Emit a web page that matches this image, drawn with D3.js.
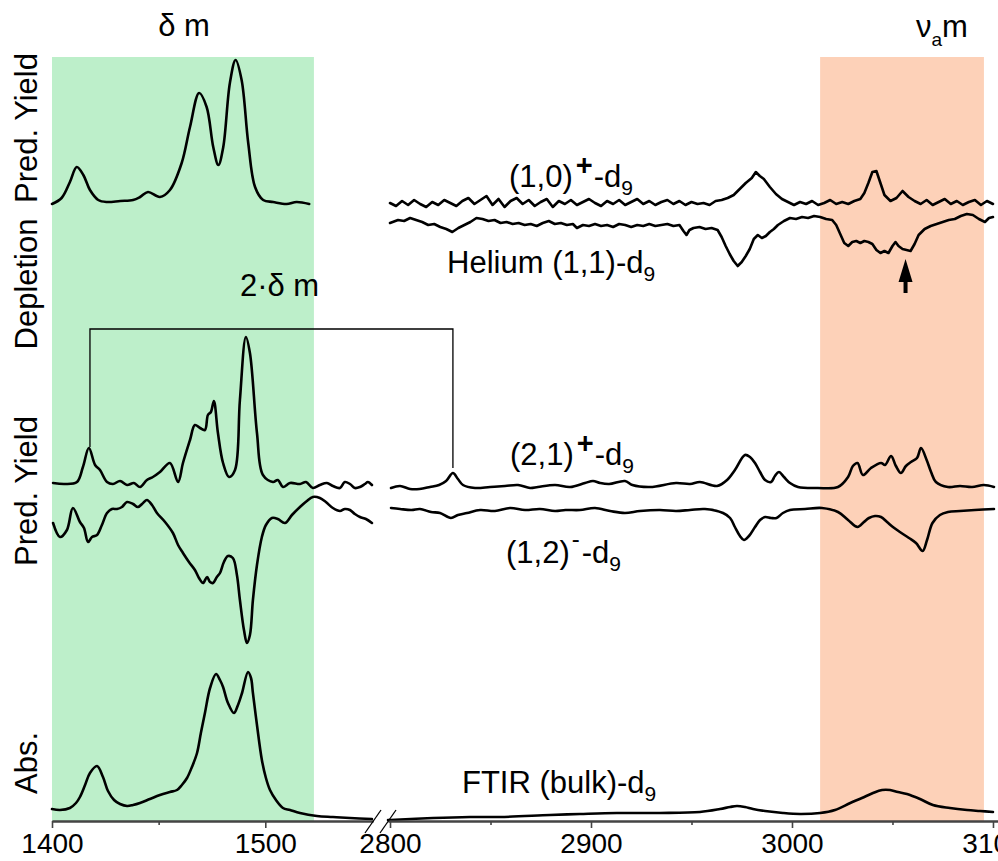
<!DOCTYPE html>
<html><head><meta charset="utf-8">
<script src="https://cdn.jsdelivr.net/npm/d3@7"></script>
<style>
html,body{margin:0;padding:0;background:#fff;}
svg{display:block;}
text{font-family:"Liberation Sans",Arial,Helvetica,sans-serif;fill:#000;}
</style>
</head><body><div id="chart"></div>
<script>
// ---------- DATA (wavenumber cm^-1, intensity a.u. relative to each trace's baseline) ----------
const leftTicks = [1400, 1500];
const leftMinor = [1450];
const rightTicks = [2800, 2900, 3000, 3100];
const rightMinor = [2850, 2950, 3050];
const greenSpan = [1400, 1522.8];
const orangeSpan = [3014, 3095.5];

// Pred. Yield (delta m) - left segment
const predDelta = [[1400,-1],[1404.5,5],[1408.4,21],[1411.6,36],[1414.7,28],[1417.8,13],[1421.7,3],[1425.6,1],
 [1432,2],[1438,3],[1441.3,6],[1445,11],[1450.6,6],[1455.3,13],[1460.8,40],[1464.7,76],[1469,110],[1472.5,96],
 [1475.6,56],[1478,38],[1480.3,56],[1483.4,120],[1486.1,143],[1488.9,123],[1492,60],[1495.2,16],[1499,3],
 [1503.7,1],[1510,-1],[1514.7,1],[1520.6,-1]];

// (1,0)+ - d9, right segment
const ion10 = [[2800,0],[2803,-3],[2806,2],[2809,-2],[2812,3],[2815,-1],[2818,-4],[2821,1],[2824,-2],[2827,3],
 [2830,0],[2833,-3],[2836,2],[2839,5],[2842,-1],[2845,3],[2848,7],[2851,-2],[2854,4],[2857,-4],[2860,2],[2863,5],
 [2866,-1],[2869,3],[2872,-3],[2875,1],[2878,4],[2881,-4],[2884,2],[2887,-1],[2890,3],[2893,-2],[2896,1],[2899,4],
 [2902,0],[2905,-3],[2908,2],[2911,-1],[2914,3],[2917,-2],[2920,1],[2923,4],[2926,-1],[2929,2],[2932,-2],[2935,1],
 [2938,3],[2941,-1],[2944,2],[2947,-2],[2950,1],[2953,-1],[2956,0],[2959,-2],[2962,2],[2965,3],[2968,5],[2971,8],
 [2974,14],[2977,20],[2980,25],[2982,31],[2984,27],[2986,24],[2989,16],[2992,9],[2995,4],[2998,1],[3001,-2],
 [3004,1],[3007,-1],[3010,2],[3013,-2],[3016,0],[3019,3],[3022,-1],[3025,1],[3028,-1],[3031,2],[3034,4],[3036,10],
 [3038,20],[3040,31],[3042,32],[3044,20],[3046,8],[3049,2],[3052,5],[3055,12],[3058,6],[3061,2],[3064,-1],
 [3067,3],[3070,-2],[3073,1],[3076,4],[3079,-1],[3082,2],[3085,-2],[3088,1],[3091,3],[3094,-2],[3097,2],[3100,-1]];

// Helium (1,1) - d9 depletion, right segment
const helium = [[2800,-1],[2804,2],[2807,1],[2810,4],[2813,2],[2816,0],[2819,-3],[2822,-2],[2825,-5],[2828,-7],
 [2831,-10],[2834,-6],[2837,-3],[2840,0],[2843,4],[2846,3],[2849,1],[2852,2],[2855,-1],[2858,0],[2861,-2],
 [2864,-1],[2867,-3],[2870,-2],[2873,-4],[2876,-1],[2879,1],[2882,-2],[2885,-1],[2888,-3],[2891,-2],[2893,-6],
 [2896,-3],[2899,-4],[2902,-2],[2905,-4],[2908,-3],[2911,-5],[2914,-2],[2917,-3],[2920,-5],[2923,-3],[2926,-4],
 [2929,-2],[2932,-4],[2935,-3],[2938,-2],[2941,-4],[2944,-3],[2946,-9],[2947.5,-13],[2949,-8],[2951,-6],
 [2954,-5],[2957,-7],[2960,-6],[2963,-8],[2965,-15],[2967,-24],[2969,-32],[2971,-39],[2973,-44],[2975,-40],
 [2977,-34],[2979,-27],[2981,-17],[2983,-13],[2985,-16],[2987,-14],[2989,-10],[2991,-7],[2993,-3],[2996,1],
 [2999,4],[3002,3],[3005,5],[3008,4],[3011,6],[3014,5],[3017,3],[3020,2],[3022,-3],[3024,-12],[3026,-21],
 [3028,-24],[3030,-20],[3032,-19],[3034,-21],[3036,-19],[3038,-20],[3040,-22],[3042,-28],[3044,-31],[3046,-29],
 [3048,-31],[3050,-24],[3051.5,-20],[3053,-24],[3055,-27],[3057,-28],[3059,-29],[3061,-22],[3063,-13],[3066,-7],
 [3069,-4],[3072,-2],[3075,0],[3078,2],[3081,3],[3084,6],[3087,8],[3090,7],[3093,3],[3096,0],[3098,4],[3100,5]];

// (2,1)+ - d9 predissociation yield, left and right segments
const ion21Left = [[1400.5,3],[1406.1,2],[1411.7,4],[1414.5,19],[1417.3,38],[1420.2,21],[1422.5,16],[1425.8,4],
 [1428.6,2],[1431.9,5],[1435.2,1],[1438.4,3],[1441.3,-1],[1444.5,6],[1447.3,9],[1450.6,14],[1455.3,23],
 [1459.1,4],[1461.4,23],[1464.7,46],[1467,61],[1469.4,58],[1471.7,56],[1473.1,71],[1474.5,74],[1475.9,85],
 [1477.8,53],[1480.2,23],[1483,9],[1485.8,16],[1488.1,86],[1490.9,149],[1492.8,133],[1496.1,53],[1498.9,11],
 [1503.6,4],[1505.9,6],[1508.3,-1],[1511.6,3],[1516.3,2],[1519.1,4],[1522.3,-2],[1525.6,1],[1528.9,3],
 [1531.7,0],[1535,-2],[1537.3,4],[1539.7,2],[1542,-2],[1544.4,-1],[1546.7,2],[1548.1,4],[1550,1]];
const ion21Right = [[2800.5,-2],[2805,0],[2810,-3],[2814.7,-3],[2819.9,-1],[2824.4,1],[2827.9,5],[2831.3,13],
 [2833.8,7],[2836.3,1],[2842.3,-2],[2849.8,-1],[2857.2,0],[2863.7,1],[2869.7,-2],[2873.6,-1],[2882.1,1],
 [2889.6,-1],[2897,3],[2901,5],[2904.5,3],[2909,2],[2916.9,5],[2920.6,1],[2929.4,-1],[2942.3,3],[2949.3,2],
 [2954.2,4],[2962.7,0],[2967.7,6],[2971.6,16],[2976.6,31],[2979.1,29],[2981.6,23],[2984.1,14],[2986.6,6],
 [2989.6,4],[2991.5,10],[2993.5,14],[2996,9],[2999,3],[3003,-1],[3012.9,-2],[3022.9,-1],[3027.9,9],[3030.3,20],
 [3032.6,23],[3035.3,11],[3039.3,18],[3044.3,23],[3046.3,21],[3049.3,30],[3051.7,20],[3054.2,13],[3056.7,20],
 [3059.2,24],[3062.2,28],[3064.2,38],[3067,26],[3069.2,14],[3071.6,4],[3077.6,-1],[3083.6,0],[3089.6,-1],
 [3095.5,1],[3100.5,-1]];

// (1,2)- - d9, left and right segments
const ion12Left = [[1400.5,-13],[1403.75,-27],[1407,-20],[1409.8,2],[1413.1,-12],[1415,-18],[1416.9,-32],
 [1418.75,-27],[1421.1,-25],[1423.4,-15],[1425.8,-3],[1428.1,1],[1430.5,1],[1432.8,3],[1435.2,8],[1438,6],
 [1440.3,3],[1442.7,7],[1444.5,10],[1446.9,5],[1449.2,-3],[1453,-12],[1456.7,-23],[1459.1,-35],[1461.4,-43],
 [1464.2,-52],[1467,-60],[1468.9,-68],[1470.8,-73],[1472.7,-67],[1474.1,-72],[1475.5,-73],[1477.3,-67],
 [1478.75,-63],[1480.6,-52],[1482.5,-46],[1484.8,-48],[1486.7,-65],[1488.1,-90],[1490,-120],[1491.4,-133],
 [1492.8,-125],[1494.2,-90],[1496.1,-55],[1498.4,-27],[1500.3,-15],[1503.1,-8],[1505.9,-9],[1509.2,-13],
 [1512.5,-5],[1516.25,3],[1519.5,9],[1522.3,13],[1525.6,12],[1528.4,8],[1531.7,2],[1535,-1],[1537.3,1],
 [1539.7,0],[1542,-4],[1544.4,-7],[1547.2,-9],[1550,-13]];
const ion12Right = [[2800.5,2],[2805,1],[2810.7,0],[2814.9,1],[2820.4,-2],[2824.9,-3],[2830.3,-8],[2833.8,-5],
 [2838.3,-3],[2844.8,0],[2852.2,-1],[2859.7,2],[2867.2,0],[2874.6,1],[2882.1,-1],[2887.3,0],[2894.5,0],
 [2902,2],[2909.5,-1],[2916.9,-3],[2924.4,-1],[2934.3,0],[2942.3,-1],[2949.3,0],[2956.7,1],[2965.7,-3],
 [2969.2,-8],[2971.6,-17],[2974.1,-26],[2976.1,-30],[2978.6,-26],[2981.6,-17],[2984.1,-10],[2986.6,-7],
 [2989.6,-8],[2992.3,-8],[2995.5,-3],[2999,0],[3006.5,1],[3014.9,2],[3022.9,-2],[3027.9,-10],[3032.6,-17],
 [3035.8,-12],[3038.3,-8],[3041.3,-6],[3044.3,-7],[3047.3,-12],[3050.2,-17],[3053.7,-22],[3058.2,-28],
 [3061.7,-33],[3065,-41],[3067.2,-30],[3069.9,-13],[3073.6,-5],[3077.6,-2],[3083.6,-1],[3091,0],[3100.5,1]];

// FTIR (bulk) - d9 absorbance
const ftirLeft = [[1400,10],[1403.75,9],[1408.4,11],[1411.25,16],[1413.1,22],[1415.5,34],[1417.8,46],[1421.1,53],
 [1423.9,42],[1426.25,28],[1429.1,19],[1431.9,15],[1435.2,13],[1438,14],[1441.25,16],[1445.9,20],[1450.6,24],
 [1455.3,27],[1458.6,29],[1460.9,34],[1463.3,41],[1465.6,52],[1468,66],[1469.8,86],[1471.7,106],[1474.1,131],
 [1476.9,145],[1478.75,139],[1480.2,132],[1482.5,116],[1485.3,106],[1487.2,114],[1489.1,126],[1491.9,147],
 [1493.3,141],[1494.2,126],[1496.1,94],[1498.4,59],[1500.3,41],[1502.2,29],[1505,19],[1508.3,11],[1511.6,9],
 [1516.25,6],[1524.2,3],[1531.7,2],[1539.7,1],[1550,0]];
const ftirRight = [[2799,-1],[2800,-1],[2821.4,1],[2839.8,2],[2854.7,2],[2879.6,4],[2894.5,5],[2912.9,6],
 [2934.3,6],[2954.2,7],[2964.2,10],[2969.2,12],[2972.6,13],[2976.6,12],[2980.6,10],[2986.6,8],[2995.5,6],
 [3004,5],[3014,6],[3021.4,9],[3029,16],[3034.8,21],[3040.3,26],[3044.8,29],[3048.8,29],[3052.7,27],
 [3057.2,25],[3063.7,20],[3070.1,14],[3078.6,11],[3087.1,9],[3093.5,8],[3100,7]];

// vertical offsets of each trace (a.u.)
const offsets = {predDelta:618, ion10:618, helium:599, ion21:335, ion12:311, ftir:2};
// combination-band bracket (2*delta m) and arrow position
const bracket = {left:1417.8, right:2831.3, top:492, leftEnd:374, rightEnd:353};
const arrowAt = {wn:3056.5, tip:562, base:528};

// ---------- DRAWING ----------
const W = 998, H = 861;
const svg = d3.select('#chart').append('svg').attr('width', W).attr('height', H);
const xL = d3.scaleLinear().domain([1400, 1550.5]).range([52, 373]);
const xR = d3.scaleLinear().domain([2799, 3102.5]).range([388, 998]);
const y = d3.scaleLinear().domain([0, 780]).range([821, 41]);
const spanTop = 764;

svg.append('rect').attr('x', xL(greenSpan[0])).attr('width', xL(greenSpan[1]) - xL(greenSpan[0]))
  .attr('y', y(spanTop)).attr('height', y(0) - y(spanTop)).attr('fill', '#bdefca');
svg.append('rect').attr('x', xR(orangeSpan[0])).attr('width', xR(orangeSpan[1]) - xR(orangeSpan[0]))
  .attr('y', y(spanTop)).attr('height', y(0) - y(spanTop)).attr('fill', '#fdd1b8');

function trace(data, xs, off, curve) {
  const line = d3.line().x(d => xs(d[0])).y(d => y(off + d[1])).curve(curve);
  svg.append('path').attr('d', line(data)).attr('fill', 'none').attr('stroke', '#000')
    .attr('stroke-width', 2.6).attr('stroke-linejoin', 'round').attr('stroke-linecap', 'round');
}
const smooth = d3.curveCatmullRom.alpha(0.5);
trace(predDelta, xL, offsets.predDelta, smooth);
trace(ion10, xR, offsets.ion10, d3.curveLinear);
trace(helium, xR, offsets.helium, d3.curveLinear);
trace(ion21Left, xL, offsets.ion21, smooth);
trace(ion21Right, xR, offsets.ion21, smooth);
trace(ion12Left, xL, offsets.ion12, smooth);
trace(ion12Right, xR, offsets.ion12, smooth);
trace(ftirLeft, xL, offsets.ftir, smooth);
trace(ftirRight, xR, offsets.ftir, smooth);

// bracket
svg.append('path').attr('d', d3.line()([
  [xL(bracket.left), y(bracket.leftEnd)], [xL(bracket.left), y(bracket.top)],
  [xR(bracket.right), y(bracket.top)], [xR(bracket.right), y(bracket.rightEnd)]]))
  .attr('fill', 'none').attr('stroke', '#000').attr('stroke-width', 1.3);

// arrow
{
  const ax = xR(arrowAt.wn), tipY = y(arrowAt.tip), baseY = y(arrowAt.base);
  const headY = tipY + 23;
  svg.append('path').attr('d', `M${ax},${tipY} L${ax + 7},${headY} L${ax + 2},${headY} L${ax + 2},${baseY} L${ax - 2},${baseY} L${ax - 2},${headY} L${ax - 7},${headY} Z`)
    .attr('fill', '#000');
}

// axes
function styleAxis(g) {
  g.select('.domain').attr('stroke', '#444').attr('stroke-width', 2);
  g.selectAll('.tick line').attr('stroke', '#444').attr('stroke-width', 1.6);
  g.selectAll('.tick text').attr('y', 32).attr('dy', 0).attr('font-size', 28)
    .attr('font-family', '"Liberation Sans",Arial,sans-serif').attr('fill', '#000');
}
const axY = y(0);
svg.append('g').attr('transform', `translate(0,${axY})`)
  .call(d3.axisBottom(xL).tickValues(leftTicks).tickSize(7).tickSizeOuter(0).tickFormat(d3.format('d'))).call(styleAxis);
svg.append('g').attr('transform', `translate(0,${axY})`)
  .call(d3.axisBottom(xL).tickValues(leftMinor).tickSize(4).tickSizeOuter(0).tickFormat('')).call(styleAxis);
svg.append('g').attr('transform', `translate(0,${axY})`)
  .call(d3.axisBottom(xR).tickValues(rightTicks).tickSize(7).tickSizeOuter(0).tickFormat(d3.format('d'))).call(styleAxis);
svg.append('g').attr('transform', `translate(0,${axY})`)
  .call(d3.axisBottom(xR).tickValues(rightMinor).tickSize(4).tickSizeOuter(0).tickFormat('')).call(styleAxis);

// axis break slashes
[xL.range()[1], xR.range()[0]].forEach(bx => {
  svg.append('line').attr('x1', bx - 8).attr('y1', axY + 12).attr('x2', bx + 8).attr('y2', axY - 11)
    .attr('stroke', '#000').attr('stroke-width', 1.3);
});

// y labels
const yLabels = [['Pred. Yield', 693], ['Depletion', 537], ['Pred. Yield', 330], ['Abs.', 58]];
yLabels.forEach(([t, v]) => {
  svg.append('text').attr('transform', `translate(37,${y(v)}) rotate(-90)`)
    .attr('text-anchor', 'middle').attr('font-size', 31).text(t);
});

// rich labels
function rich(x, yy, parts, anchor) {
  const t = svg.append('text').attr('x', x).attr('y', yy).attr('font-size', 31);
  if (anchor) t.attr('text-anchor', anchor);
  parts.forEach(p => {
    const s = t.append('tspan').text(p.t);
    if (p.size) s.attr('font-size', p.size);
    if (p.dy) s.attr('dy', p.dy);
    if (p.dx) s.attr('dx', p.dx);
    if (p.w) s.attr('font-weight', p.w);
  });
}
rich(xR(2859.2), y(634), [{t:'(1,0)'}, {t:'+', size:29, dy:-12, dx:3, w:'bold'}, {t:'-d', dy:12, dx:1}, {t:'9', size:21, dy:8}]);
rich(xR(2828.4), y(548), [{t:'Helium (1,1)-d'}, {t:'9', size:21, dy:8}]);
rich(xR(2859.7), y(356), [{t:'(2,1)'}, {t:'+', size:29, dy:-12, dx:3, w:'bold'}, {t:'-d', dy:12, dx:1}, {t:'9', size:21, dy:8}]);
rich(xR(2857.7), y(258), [{t:'(1,2)'}, {t:'-', size:24, dy:-16, dx:2}, {t:'-d', dy:16, dx:2}, {t:'9', size:21, dy:8}]);
rich(xR(2835.8), y(28), [{t:'FTIR (bulk)-d'}, {t:'9', size:21, dy:8}]);
rich(xL(1461.9), y(785), [{t:'δ m'}], 'middle');
rich(xL(1488.1), y(525), [{t:'2·δ m'}]);
rich(xR(3061.7), y(784), [{t:'ν'}, {t:'a', size:19, dy:9}, {t:'m', dy:-9}]);
</script></body></html>
